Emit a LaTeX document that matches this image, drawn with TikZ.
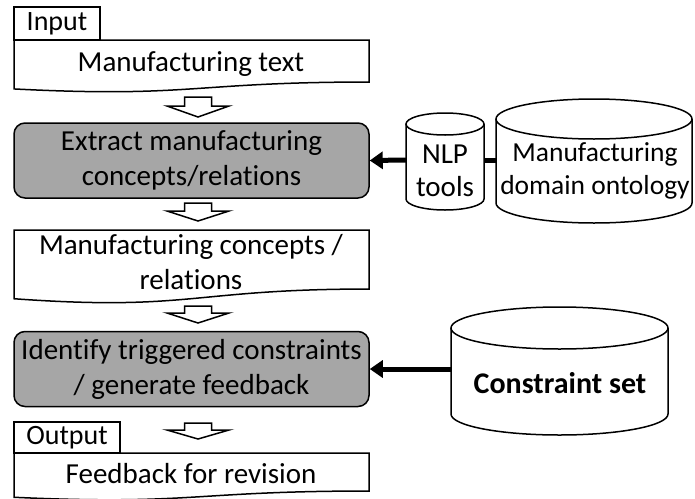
\documentclass[tikz,border=0pt]{standalone}
\usepackage{fontspec}
\setmainfont{Carlito}[Ligatures=NoCommon]
\usetikzlibrary{arrows.meta}
\definecolor{boxgray}{RGB}{166,166,166}
\tikzset{
  lbl/.style={font=\fontsize{29}{35}\selectfont, align=center, inner sep=0pt},
  tablbl/.style={font=\fontsize{28}{30}\selectfont},
  outline/.style={draw, line width=1.5pt},
  procbox/.style={outline, fill=boxgray, rounded corners=11pt, lbl,
    minimum width=355pt, minimum height=75pt},
  tabbox/.style={outline, fill=white, tablbl, inner sep=0pt},
  thickarrow/.style={line width=5pt, -{Triangle[length=13pt,width=17pt]}}
}
% document shape: left, top, right, height
\newcommand\docshape[4]{%
  \draw[outline, fill=white] (#1,#2) -- (#3,#2) -- (#3,{#2+0.802*#4})
    .. controls ({(#1+#3)/2},{#2+0.802*#4}) and ({(#1+#3)/2},{#2+1.107*#4})
    .. (#1,{#2+0.934*#4}) -- cycle;}
% database: left, right, top, bottom, y radius
\newcommand\dbshape[5]{%
  \draw[outline, fill=white] (#1,{#3+#5}) -- (#1,{#4-#5})
    arc[start angle=180, end angle=0, x radius={(#2-#1)/2}, y radius=#5]
    -- (#2,{#3+#5});
  \draw[outline, fill=white] ({(#1+#2)/2},{#3+#5})
    ellipse[x radius={(#2-#1)/2}, y radius=#5];}
% hollow arrow: top, head base, tip
\newcommand\hollowarrow[3]{%
  \draw[outline, fill=white] (184.5,#1) -- (211.5,#1) -- (211.5,#2) -- (229,#2)
    -- (198,#3) -- (167,#2) -- (184.5,#2) -- cycle;}
\begin{document}
\begin{tikzpicture}[x=1pt, y=-1pt]
  \useasboundingbox (0,0) rectangle (695,498);
  % input
  \node[tabbox, minimum width=86pt, minimum height=33pt] (intab) at (57,23.5) {Input};
  \docshape{14}{40}{369}{52.4}
  \node[lbl] (intext) at (191,64) {Manufacturing text};
  \hollowarrow{97}{106}{117}
  % extraction
  \node[procbox] (extract) at (191.5,160.5) {Extract manufacturing\\concepts/relations};
  \hollowarrow{203}{211}{221}
  \docshape{14}{230}{369}{73.6}
  \node[lbl] (concepts) at (191,262) {Manufacturing concepts /\\relations};
  \hollowarrow{306}{313}{323}
  % constraints
  \node[procbox] (identify) at (191.5,369) {Identify triggered constraints\\/ generate feedback};
  \hollowarrow{423}{430}{439}
  % output
  \docshape{14}{453}{369}{47.4}
  \node[tabbox, minimum width=106pt, minimum height=31pt] (outtab) at (67,437.5) {Output};
  \node[lbl] (outtext) at (191,474) {Feedback for revision};
  % resources
  \dbshape{406}{484}{113}{210}{11}
  \node[lbl, font=\fontsize{29}{33}\selectfont] (nlp) at (445,171) {NLP\\tools};
  \dbshape{496}{692}{99}{223}{20}
  \node[lbl, font=\fontsize{27.5}{33}\selectfont] (onto) at (595,171) {Manufacturing\\domain ontology};
  \dbshape{451}{668}{307}{435}{21}
  \node[lbl, font=\fontsize{30}{35}\bfseries] (cset) at (560,383) {Constraint set};
  \coordinate (nlpL) at (406,160);
  \coordinate (nlpR) at (484,160);
  \coordinate (ontoL) at (496,160);
  \coordinate (csetL) at (451,369);
  \draw[thickarrow] (nlpL) -- (extract.east);
  \draw[line width=5pt] (nlpR) -- (ontoL);
  \draw[thickarrow] (csetL) -- (identify.east);
\end{tikzpicture}
\end{document}
